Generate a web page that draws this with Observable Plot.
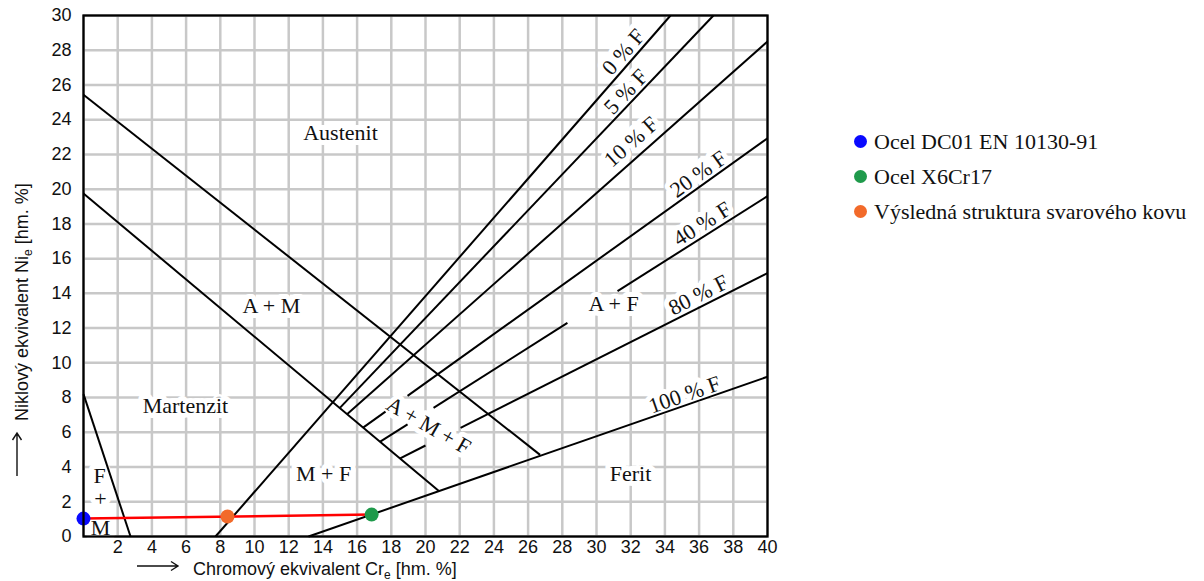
<!DOCTYPE html>
<html>
<head>
<meta charset="utf-8">
<script src="https://cdn.jsdelivr.net/npm/d3@7"></script>
<script src="https://cdn.jsdelivr.net/npm/@observablehq/plot@0.6"></script>
<style>
  body { margin: 0; background: #fff; }
  #wrap { position: relative; width: 1204px; height: 581px; overflow: hidden; }
  #chart { position: absolute; left: 0; top: 0; }
  #legend { position: absolute; left: 854px; top: 124px; font-family: "Liberation Serif", "Times New Roman", serif; font-size: 22px; color: #111; }
  .row { display: flex; align-items: center; height: 35px; white-space: nowrap; }
  .sw { width: 13px; height: 13px; border-radius: 50%; margin-right: 7px; flex: none; }
</style>
</head>
<body>
<div id="wrap"><div id="chart"></div><div id="legend"></div></div>
<script>
// ---- tick labels / grid ----
const crTicks = [2,4,6,8,10,12,14,16,18,20,22,24,26,28,30,32,34,36,38,40];
const niTicks = [0,2,4,6,8,10,12,14,16,18,20,22,24,26,28,30];
const crGrid = [0,2,4,6,8,10,12,14,16,18,20,22,24,26,28,30,32,34,36,38,40];
const niGrid = [0,2,4,6,8,10,12,14,16,18,20,22,24,26,28,30];

// ---- phase boundaries (Cr_e, Ni_e end points) ----
const boundaryLines = [
  {id: "A | A+M",   x1: 0,    y1: 25.44, x2: 26.7,  y2: 4.7},
  {id: "A+M | M",   x1: 0,    y1: 19.75, x2: 20.8,  y2: 2.6},
  {id: "M | F+M",   x1: 0,    y1: 8.2,   x2: 2.75,  y2: 0}
];

// ---- ferrite iso-lines (segments, gaps where labels sit) ----
const ferriteLines = [
  {pct: "0",   x1: 7.72,  y1: 0,     x2: 34.33, y2: 30},
  {pct: "5",   x1: 14.98, y1: 7.39,  x2: 36.84, y2: 30},
  {pct: "10",  x1: 15.41, y1: 7.04,  x2: 40,    y2: 28.5},
  {pct: "20",  x1: 16.35, y1: 6.27,  x2: 17.66, y2: 7.19},
  {pct: "20",  x1: 18.95, y1: 8.1,   x2: 40,    y2: 22.93},
  {pct: "40",  x1: 17.33, y1: 5.45,  x2: 18.95, y2: 6.46},
  {pct: "40",  x1: 20.47, y1: 7.41,  x2: 28.3,  y2: 12.3},
  {pct: "40",  x1: 31.23, y1: 14.13, x2: 40,    y2: 19.6},
  {pct: "80",  x1: 18.49, y1: 4.49,  x2: 20.0,  y2: 5.24},
  {pct: "80",  x1: 22.05, y1: 6.26,  x2: 40,    y2: 15.17},
  {pct: "100", x1: 13.16, y1: 0,     x2: 40,    y2: 9.2}
];

// ---- region labels ----
const regionLabels = [
  {text: "Austenit",  cr: 15.03, ni: 23.22},
  {text: "A + M",     cr: 10.99, ni: 13.28},
  {text: "Martenzit", cr: 5.96,  ni: 7.53},
  {text: "F",         cr: 0.94,  ni: 3.51},
  {text: "+",         cr: 0.99,  ni: 2.18},
  {text: "M",         cr: 0.99,  ni: 0.52},
  {text: "M + F",     cr: 14.04, ni: 3.62},
  {text: "A + F",     cr: 31.0,  ni: 13.39},
  {text: "Ferit",     cr: 31.99, ni: 3.62}
];
const mixedLabel = [{text: "A + M + F", cr: 20.18, ni: 6.38}];
const ferriteLabels = [
  {pct: "0",   cr: 31.58, ni: 27.9},
  {pct: "5",   cr: 31.73, ni: 25.6},
  {pct: "10",  cr: 32.03, ni: 22.72},
  {pct: "20",  cr: 35.96, ni: 20.86},
  {pct: "40",  cr: 36.18, ni: 18.0},
  {pct: "80",  cr: 35.96, ni: 13.9},
  {pct: "100", cr: 35.15, ni: 8.16}
];

// ---- steels ----
const steelNames  = ["Ocel DC01 EN 10130-91", "Ocel X6Cr17", "Výsledná struktura svarového kovu"];
const steelCr     = [0, 16.85, 8.42];
const steelNi     = [1.03, 1.26, 1.15];
const steelColors = ["#0a0aff", "#1f9a4b", "#f26a2a"];

const xTitle = ["Chromový ekvivalent Cr", "e", " [hm. %]"];
const yTitle = ["Niklový ekvivalent Ni", "e", " [hm. %]"];

// ---- build ----
const W = 800, H = 581, ML = 83, MR = 33, MT = 15, MB = 45;
const kx = (W - ML - MR) / 40, ky = (H - MT - MB) / 30;
const steels = steelNames.map((n, i) => ({name: n, cr: steelCr[i], ni: steelNi[i]}));
const weld = [steels[0], steels[1]];
const lastSeg = pct => ferriteLines.filter(d => d.pct === pct).slice(-1)[0];
const fLabels = ferriteLabels.map(d => {
  const s = lastSeg(d.pct);
  const ang = -Math.atan2((s.y2 - s.y1) * ky, (s.x2 - s.x1) * kx) * 180 / Math.PI;
  return {...d, text: d.pct + " % F", angle: ang};
});

const serif = '"Liberation Serif", "Times New Roman", serif';
const sans = '"Liberation Sans", Arial, sans-serif';
const txt = {x: "cr", y: "ni", text: "text", fontFamily: serif, fontSize: 22, textAnchor: "middle", lineAnchor: "middle"};
const halo = {fill: "white", stroke: "white", strokeWidth: 10};

const chart = Plot.plot({
  width: W, height: H,
  marginLeft: ML, marginRight: MR, marginTop: MT, marginBottom: MB,
  style: {fontFamily: sans, fontSize: "18px", color: "#111", background: "white"},
  x: {domain: [0, 40], ticks: crTicks, label: null, tickSize: 0, tickPadding: 4},
  y: {domain: [0, 30], ticks: niTicks, label: null, tickSize: 0, tickPadding: 12},
  color: {domain: steelNames, range: steelColors},
  marks: [
    Plot.gridX(crGrid, {stroke: "#c8c8c8", strokeOpacity: 1, strokeWidth: 2.5}),
    Plot.gridY(niGrid, {stroke: "#c8c8c8", strokeOpacity: 1, strokeWidth: 2.5}),
    Plot.text(regionLabels, {...txt, ...halo}),
    Plot.text(mixedLabel, {...txt, ...halo, rotate: 30}),
    Plot.text(fLabels, {...txt, ...halo, rotate: "angle"}),
    Plot.link(boundaryLines, {x1: "x1", y1: "y1", x2: "x2", y2: "y2", stroke: "black", strokeWidth: 2}),
    Plot.link(ferriteLines, {x1: "x1", y1: "y1", x2: "x2", y2: "y2", stroke: "black", strokeWidth: 2}),
    Plot.line(weld, {x: "cr", y: "ni", stroke: "#ff0000", strokeWidth: 2.5}),
    Plot.dot(steels, {x: "cr", y: "ni", r: 7, fill: "name", stroke: null}),
    Plot.text(regionLabels, {...txt, fill: "#111"}),
    Plot.text(mixedLabel, {...txt, fill: "#111", rotate: 30}),
    Plot.text(fLabels, {...txt, fill: "#111", rotate: "angle"}),
    Plot.frame({stroke: "black", strokeWidth: 2.3})
  ]
});
document.getElementById("chart").appendChild(chart);

// axis titles with subscript e and arrows
const svg = d3.select(chart);
function title(g, parts) {
  const t = g.append("text").attr("text-anchor", "start").attr("font-family", sans)
    .attr("font-size", 18).attr("fill", "#111");
  t.append("tspan").text(parts[0]);
  t.append("tspan").attr("font-size", 12).attr("dy", 4).text(parts[1]);
  t.append("tspan").attr("dy", -4).text(parts[2]);
}
title(svg.append("g").attr("transform", "translate(193,575)"), xTitle);
title(svg.append("g").attr("transform", "translate(28,421) rotate(-90)"), yTitle);
const ar = svg.append("g").attr("fill", "none").attr("stroke", "#111").attr("stroke-width", 1.4);
ar.append("path").attr("d", "M137,566H178M171,561.5L178,566L171,570.5");
ar.append("path").attr("d", "M17,476V433M12.5,440L17,433L21.5,440");

// legend
const leg = d3.select("#legend");
steelNames.forEach((n, i) => {
  const r = leg.append("div").attr("class", "row");
  r.append("span").attr("class", "sw").style("background", steelColors[i]);
  r.append("span").text(n);
});
</script>
</body>
</html>
